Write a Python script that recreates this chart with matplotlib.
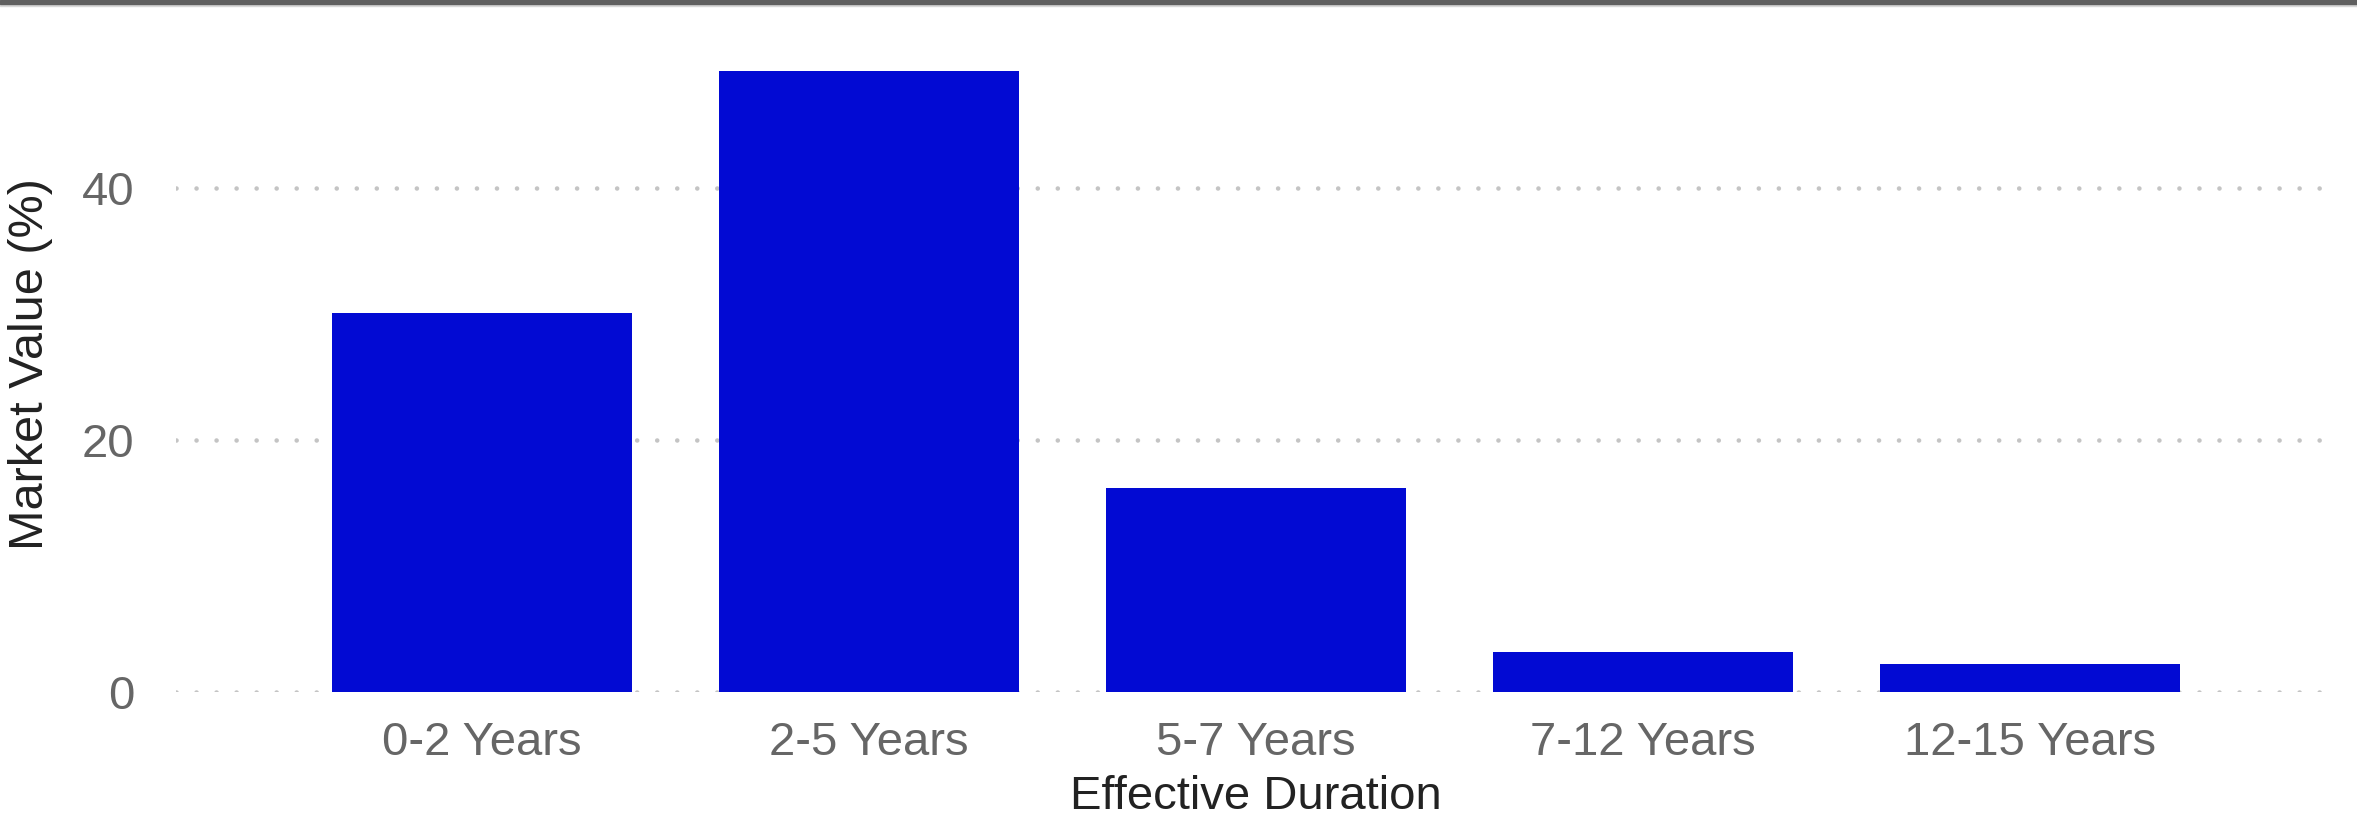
import matplotlib
matplotlib.use("Agg")
import matplotlib.pyplot as plt
from matplotlib.patches import Rectangle

categories = ["0-2 Years", "2-5 Years", "5-7 Years", "7-12 Years", "12-15 Years"]
market_value = [30.1, 49.3, 16.2, 3.2, 2.2]
y_ticks = [0, 20, 40]

plt.rcParams['font.family'] = ['Liberation Sans', 'DejaVu Sans']

fig = plt.figure(figsize=(23.57, 8.19), dpi=100)
ax = fig.add_axes([0.0747, 0.155, 0.9163, 0.80])

x = list(range(len(categories)))
ax.bar(x, market_value, width=0.775, color="#020AD3", zorder=3)

ax.set_xlim(-0.79, len(categories) - 1 + 0.79)
ax.set_ylim(0, 52)
ax.set_xticks(x)
ax.set_xticklabels(categories)
ax.set_yticks(y_ticks)

# dotted horizontal grid
ax.yaxis.grid(True, color="#c4c4c4", linewidth=3.3, linestyle=(0, (0.01, 4.36)),
              dash_capstyle="round")
ax.set_axisbelow(True)
for s in ax.spines.values():
    s.set_visible(False)

ax.tick_params(axis="both", length=0, labelsize=34, labelcolor="#666666")
ax.tick_params(axis="x", pad=21)
ax.tick_params(axis="y", pad=30)

ax.set_xlabel("Effective Duration", fontsize=34, color="#222222")
ax.set_ylabel("Market Value (%)", fontsize=35, color="#222222")
ax.xaxis.set_label_coords(0.5, -0.127)
ax.yaxis.set_label_coords(-0.057, 0.5)

# dark strip along the top edge
fig.patches.append(Rectangle((0, 1 - 4 / 819), 1, 4 / 819, transform=fig.transFigure,
                             color="#606060", zorder=5))
fig.patches.append(Rectangle((0, 1 - 6 / 819), 1, 2 / 819, transform=fig.transFigure,
                             color="#d8d8d8", zorder=4))

fig.savefig("out.png", dpi=100)
